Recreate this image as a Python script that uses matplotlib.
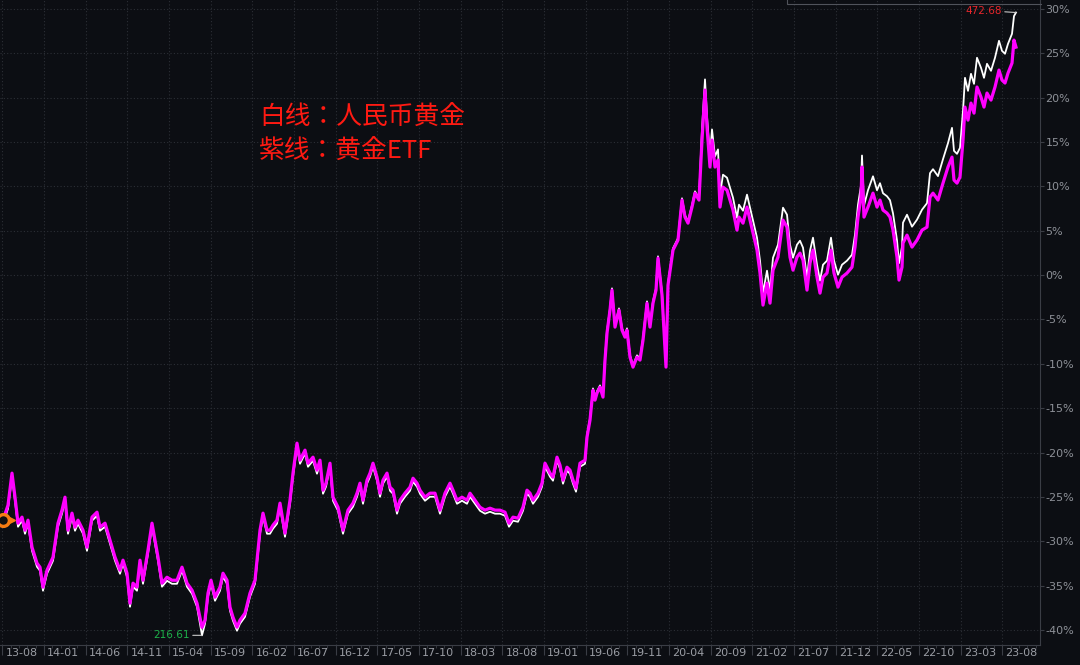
import numpy as np
import matplotlib.pyplot as plt
from matplotlib.ticker import MultipleLocator
from matplotlib.transforms import ScaledTranslation
from matplotlib.lines import Line2D

plt.rcParams['font.family'] = ['Noto Sans CJK JP', 'DejaVu Sans']

tick_labels = ['13-08', '14-01', '14-06', '14-11', '15-04', '15-09', '16-02', '16-07',
               '16-12', '17-05', '17-10', '18-03', '18-08', '19-01', '19-06', '19-11',
               '20-04', '20-09', '21-02', '21-07', '21-12', '22-05', '22-10', '23-03', '23-08']
pct_ticks = [-40, -35, -30, -25, -20, -15, -10, -5, 0, 5, 10, 15, 20, 25, 30]

# time in decimal years
t = [2013.59, 2013.64, 2013.68, 2013.71, 2013.74, 2013.78, 2013.81, 2013.84, 2013.88, 2013.93,
     2013.96, 2013.99, 2014.03, 2014.09, 2014.14, 2014.18, 2014.21, 2014.24, 2014.28, 2014.31,
     2014.34, 2014.39, 2014.43, 2014.48, 2014.53, 2014.56, 2014.61, 2014.66, 2014.71, 2014.76,
     2014.79, 2014.83, 2014.86, 2014.89, 2014.93, 2014.96, 2014.99, 2015.04, 2015.08, 2015.11,
     2015.14, 2015.18, 2015.23, 2015.28, 2015.33, 2015.38, 2015.43, 2015.48, 2015.53, 2015.58,
     2015.61, 2015.64, 2015.67, 2015.71, 2015.76, 2015.79, 2015.83, 2015.86, 2015.89, 2015.93,
     2015.96, 2016.01, 2016.06, 2016.11, 2016.16, 2016.19, 2016.23, 2016.26, 2016.29, 2016.33,
     2016.36, 2016.41, 2016.46, 2016.49, 2016.53, 2016.56, 2016.61, 2016.64, 2016.69, 2016.73,
     2016.76, 2016.79, 2016.82, 2016.86, 2016.89, 2016.94, 2016.99, 2017.04, 2017.09, 2017.13,
     2017.16, 2017.19, 2017.23, 2017.26, 2017.29, 2017.33, 2017.36, 2017.39, 2017.43, 2017.46,
     2017.49, 2017.53, 2017.56, 2017.61, 2017.66, 2017.69, 2017.73, 2017.76, 2017.81, 2017.86,
     2017.91, 2017.96, 2018.01, 2018.06, 2018.09, 2018.13, 2018.18, 2018.23, 2018.26, 2018.31,
     2018.36, 2018.41, 2018.46, 2018.51, 2018.56, 2018.61, 2018.65, 2018.69, 2018.74, 2018.79,
     2018.83, 2018.86, 2018.89, 2018.94, 2018.98, 2019.01, 2019.06, 2019.09, 2019.13, 2019.16,
     2019.19, 2019.23, 2019.26, 2019.29, 2019.32, 2019.36, 2019.41, 2019.43, 2019.46, 2019.49,
     2019.51, 2019.53, 2019.56, 2019.59, 2019.61, 2019.63, 2019.66, 2019.68, 2019.71, 2019.75,
     2019.78, 2019.81, 2019.83, 2019.86, 2019.89, 2019.93, 2019.96, 2019.99, 2020.03, 2020.06,
     2020.09, 2020.12, 2020.14, 2020.18, 2020.22, 2020.24, 2020.29, 2020.34, 2020.38, 2020.41,
     2020.44, 2020.48, 2020.51, 2020.55, 2020.58, 2020.61, 2020.63, 2020.66, 2020.68, 2020.71,
     2020.74, 2020.76, 2020.79, 2020.83, 2020.86, 2020.89, 2020.93, 2020.95, 2020.99, 2021.03,
     2021.06, 2021.09, 2021.13, 2021.16, 2021.19, 2021.23, 2021.26, 2021.29, 2021.34, 2021.39,
     2021.43, 2021.46, 2021.49, 2021.53, 2021.56, 2021.59, 2021.63, 2021.66, 2021.69, 2021.73,
     2021.76, 2021.79, 2021.83, 2021.87, 2021.90, 2021.94, 2021.98, 2022.03, 2022.08, 2022.11,
     2022.14, 2022.17, 2022.18, 2022.20, 2022.24, 2022.29, 2022.33, 2022.36, 2022.39, 2022.43,
     2022.46, 2022.49, 2022.53, 2022.55, 2022.58, 2022.59, 2022.63, 2022.68, 2022.73, 2022.78,
     2022.83, 2022.86, 2022.89, 2022.94, 2022.99, 2023.04, 2023.08, 2023.10, 2023.13, 2023.16,
     2023.19, 2023.21, 2023.24, 2023.27, 2023.30, 2023.33, 2023.37, 2023.40, 2023.43, 2023.47,
     2023.51, 2023.55, 2023.58, 2023.61, 2023.64, 2023.68, 2023.70, 2023.72]

# 黄金ETF, % change
etf = [-27.62, -25.93, -22.32, -25.03, -27.96, -27.28, -28.75, -27.62, -30.67, -32.47,
       -32.92, -35.17, -33.26, -31.79, -27.96, -26.49, -25.03, -28.75, -26.83, -28.41,
       -27.62, -28.75, -30.67, -27.28, -26.72, -28.41, -27.96, -29.88, -31.79, -33.26,
       -32.13, -33.60, -36.98, -34.72, -35.17, -32.13, -34.39, -31.00, -27.96, -29.88,
       -31.79, -34.72, -34.05, -34.39, -34.39, -32.92, -34.72, -35.51, -36.98, -39.70,
       -38.89, -35.85, -34.39, -36.30, -35.17, -33.60, -34.39, -37.43, -38.56, -39.68,
       -38.89, -38.11, -35.85, -34.39, -28.75, -26.83, -28.75, -28.75, -28.18, -27.62,
       -25.70, -29.09, -25.37, -22.32, -18.94, -20.86, -19.73, -21.20, -20.52, -21.98,
       -20.86, -24.24, -23.45, -21.20, -25.03, -26.16, -28.75, -26.49, -25.70, -24.58,
       -23.45, -25.37, -23.11, -22.32, -21.20, -22.77, -24.58, -23.11, -22.32, -23.90,
       -24.24, -26.49, -25.37, -24.58, -23.90, -22.89, -23.45, -24.24, -25.03, -24.58,
       -24.58, -26.49, -24.58, -23.45, -24.24, -25.37, -25.03, -25.37, -24.58, -25.37,
       -26.16, -26.49, -26.27, -26.49, -26.49, -26.72, -27.96, -27.28, -27.40, -26.16,
       -24.24, -24.58, -25.37, -24.58, -23.45, -21.20, -22.32, -22.77, -20.52, -21.42,
       -23.11, -21.65, -21.98, -23.11, -24.01, -21.20, -20.86, -18.26, -16.35, -12.97,
       -14.09, -13.30, -12.63, -13.75, -9.58, -6.54, -3.95, -1.69, -5.86, -3.95,
       -6.20, -6.99, -6.20, -9.24, -10.37, -9.24, -9.58, -7.33, -3.16, -5.86,
       -3.16, -1.69, 1.92, -2.25, -10.37, -1.13, 2.82, 3.95, 8.46, 6.54,
       5.86, 7.67, 9.24, 8.46, 15.22, 20.86, 16.69, 12.18, 15.22, 12.18,
       12.97, 7.67, 9.92, 9.58, 8.46, 7.33, 5.07, 6.54, 5.86, 7.67,
       6.20, 4.74, 2.82, 0.23, -3.38, -0.90, -3.16, 0.56, 2.03, 6.20,
       5.41, 2.03, 0.56, 2.03, 2.48, 1.69, -1.69, 1.35, 2.82, -0.23,
       -2.03, -0.23, 0.23, 2.82, 0.23, -1.35, -0.23, 0.23, 0.90, 3.16,
       6.54, 8.79, 12.18, 6.54, 7.67, 9.24, 7.67, 8.46, 7.33, 6.99,
       6.54, 5.07, 2.03, -0.56, 0.90, 3.61, 4.51, 3.16, 3.95, 5.07,
       5.41, 8.79, 9.24, 8.46, 10.37, 12.18, 13.30, 10.71, 10.37, 11.05,
       15.22, 18.94, 17.47, 19.39, 18.26, 21.20, 20.07, 18.94, 20.52, 19.73,
       21.20, 23.11, 21.98, 21.65, 22.77, 23.90, 26.49, 25.70]

# 人民币黄金, % change
cny_gold = [-28.02, -26.33, -22.72, -25.43, -28.36, -27.68, -29.15, -28.02, -31.07, -32.87,
            -33.32, -35.57, -33.66, -32.19, -28.36, -26.89, -25.43, -29.15, -27.23, -28.81,
            -28.02, -29.15, -31.07, -27.68, -27.12, -28.81, -28.36, -30.28, -32.19, -33.66,
            -32.53, -34.00, -37.38, -35.12, -35.57, -32.53, -34.79, -31.40, -28.36, -30.28,
            -32.19, -35.12, -34.45, -34.79, -34.79, -33.32, -35.12, -35.91, -37.38, -40.60,
            -39.29, -36.25, -34.79, -36.70, -35.57, -34.00, -34.79, -37.83, -38.96, -40.08,
            -39.29, -38.51, -36.25, -34.79, -29.15, -27.23, -29.15, -29.15, -28.58, -28.02,
            -26.10, -29.49, -25.77, -22.72, -19.34, -21.26, -20.13, -21.60, -20.92, -22.38,
            -21.26, -24.64, -23.85, -21.60, -25.43, -26.56, -29.15, -26.89, -26.10, -24.98,
            -23.85, -25.77, -23.51, -22.72, -21.60, -23.17, -24.98, -23.51, -22.72, -24.30,
            -24.64, -26.89, -25.77, -24.98, -24.30, -23.29, -23.85, -24.64, -25.43, -24.98,
            -24.98, -26.89, -24.98, -23.85, -24.64, -25.77, -25.43, -25.77, -24.98, -25.77,
            -26.56, -26.89, -26.67, -26.89, -26.89, -27.12, -28.36, -27.68, -27.80, -26.56,
            -24.64, -24.98, -25.77, -24.98, -23.85, -21.60, -22.72, -23.17, -20.92, -21.82,
            -23.51, -22.05, -22.38, -23.51, -24.41, -21.60, -21.26, -18.06, -16.15, -12.77,
            -13.89, -13.10, -12.43, -13.55, -9.38, -6.34, -3.75, -1.49, -5.66, -3.75,
            -6.00, -6.79, -6.00, -9.04, -10.17, -9.04, -9.38, -7.13, -2.96, -5.66,
            -2.96, -1.49, 2.12, -2.05, -10.17, -0.93, 3.02, 4.15, 8.66, 6.74,
            6.06, 7.87, 9.44, 8.66, 16.42, 22.06, 17.89, 13.38, 16.42, 13.38,
            14.17, 9.07, 11.32, 10.98, 9.86, 8.73, 6.47, 7.94, 7.26, 9.07,
            7.60, 6.14, 4.22, 1.63, -1.98, 0.50, -1.76, 1.96, 3.43, 7.60,
            6.81, 3.43, 1.96, 3.43, 3.88, 3.09, -0.29, 2.75, 4.22, 1.17,
            -0.63, 1.17, 1.63, 4.22, 1.63, 0.05, 1.17, 1.63, 2.30, 4.56,
            7.94, 10.09, 13.48, 7.84, 9.57, 11.14, 9.57, 10.36, 9.23, 8.89,
            8.44, 6.97, 3.93, 1.34, 3.20, 5.91, 6.81, 5.46, 6.25, 7.37,
            8.11, 11.49, 11.94, 11.16, 13.07, 14.88, 16.60, 14.01, 13.67, 14.35,
            18.52, 22.24, 20.77, 22.69, 21.56, 24.50, 23.37, 22.24, 23.82, 23.03,
            24.50, 26.41, 25.28, 24.95, 26.07, 27.20, 29.20, 29.60]

cny_low_price = 216.61
cny_high_price = 472.68

bg = '#0c0e13'
grid_c = '#2c2f36'
axis_c = '#3a3d45'
text_c = '#8e9198'

fig = plt.figure(figsize=(10.8, 6.65), dpi=100, facecolor=bg)
ax = fig.add_axes([0, 20 / 665, 1040 / 1080, 645 / 665], facecolor=bg)

ax.plot(t, cny_gold, color='white', lw=1.3, zorder=3)
ax.plot(t, etf, color='#ff00ff', lw=2.3, zorder=4)

# start marker
ax.plot(t[0], etf[0], marker='o', ms=8.5, mfc='#111111', mec='#f57c12', mew=2.4, zorder=6)
shift = ScaledTranslation(9 / 100, 0, fig.dpi_scale_trans)
ax.plot(t[0], etf[0], marker='>', ms=4, color='#f57c12', transform=ax.transData + shift, zorder=6)

# min / max labels
i_min = int(np.argmin(cny_gold))
i_max = int(np.argmax(cny_gold))
ax.annotate(f'{cny_low_price:.2f}', xy=(t[i_min], cny_gold[i_min]), xytext=(-12, 0),
            textcoords='offset pixels', ha='right', va='center', color='#1db24a',
            fontsize=7.5, family='DejaVu Sans',
            arrowprops=dict(arrowstyle='-', color='#c8c8c8', lw=0.8, shrinkA=0, shrinkB=0))
ax.annotate(f'{cny_high_price:.2f}', xy=(t[i_max], cny_gold[i_max]), xytext=(-14, 2),
            textcoords='offset pixels', ha='right', va='center', color='#e8262b',
            fontsize=7.5, family='DejaVu Sans',
            arrowprops=dict(arrowstyle='-', color='#c8c8c8', lw=0.8, shrinkA=0, shrinkB=0))

ax.set_xlim(2013.56, 2023.96)
ax.set_ylim(-41.69, 31.01)

tick_pos = [2000 + int(s[:2]) + (int(s[3:]) - 1) / 12 for s in tick_labels]
ax.set_xticks(tick_pos)
ax.set_xticklabels(tick_labels)
ax.xaxis.set_minor_locator(MultipleLocator(1 / 12))
ax.tick_params(axis='x', which='major', direction='out', length=7.5, width=0.8,
               color=axis_c, colors='#9a9da4', labelsize=8, pad=-5)
ax.tick_params(axis='x', which='minor', direction='out', length=2, width=0.6, color=axis_c)
for lbl in ax.get_xticklabels():
    lbl.set_ha('left')
    lbl.set_family('DejaVu Sans')
    lbl.set_transform(lbl.get_transform() + ScaledTranslation(3 / 100, 0, fig.dpi_scale_trans))

ax.yaxis.tick_right()
ax.set_yticks(pct_ticks)
ax.set_yticklabels([f'{v}%' for v in pct_ticks], family='DejaVu Sans')
ax.tick_params(axis='y', direction='out', length=3, width=0.8, color=axis_c,
               colors=text_c, labelsize=8, pad=1)

ax.grid(True, color=grid_c, linestyle=(0, (1, 2)), linewidth=0.8)
for side in ['top', 'left']:
    ax.spines[side].set_visible(False)
ax.spines['right'].set_color(axis_c)
ax.spines['bottom'].set_color(axis_c)

# partially visible box at top right
fig.add_artist(Line2D([787 / 1080, 787 / 1080, 1041 / 1080], [1, 1 - 4 / 665, 1 - 4 / 665],
                      transform=fig.transFigure, color='#50535b', lw=0.8))

fig.text(259 / 1080, 1 - 118 / 665, '白线：人民币黄金', color='#ff1a12', fontsize=18.5, va='center')
fig.text(259 / 1080, 1 - 152 / 665, '紫线：黄金ETF', color='#ff1a12', fontsize=18.5, va='center')

fig.savefig('out.png', dpi=100, facecolor=bg)
